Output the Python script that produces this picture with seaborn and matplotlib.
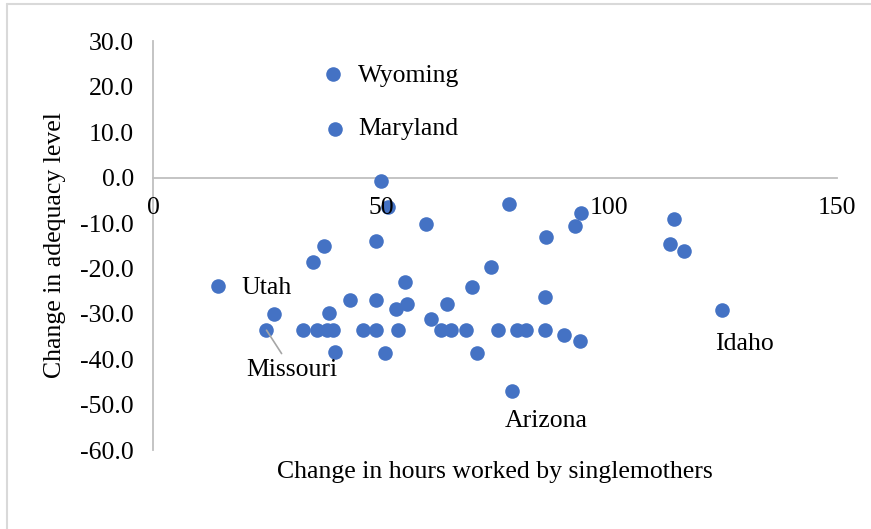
import matplotlib
matplotlib.use("Agg")
import matplotlib.pyplot as plt
import seaborn as sns
import pandas as pd
from matplotlib.lines import Line2D
from matplotlib.ticker import FormatStrFormatter

# Data: change in hours worked vs change in adequacy level
hours = [49.9, 51.5, 59.9, 48.9, 37.4, 35.0, 14.1, 55.2, 43.1, 48.8,
         55.7, 53.3, 64.5, 26.4, 38.5, 61.0, 24.8, 32.9, 35.8, 38.0,
         39.4, 46.0, 48.8, 53.6, 63.0, 65.2, 68.5, 75.7, 79.7, 81.7,
         85.9, 90.0, 93.5, 39.8, 50.8, 70.9, 78.6, 78.0, 93.9, 92.6,
         86.2, 114.2, 113.4, 116.4, 74.0, 69.8, 86.0, 124.7, 39.4, 39.8]
adequacy = [-0.7, -6.5, -10.2, -14.0, -15.1, -18.5, -23.9, -22.9, -26.9, -26.9,
            -27.8, -28.9, -27.9, -30.0, -29.8, -31.1, -33.6, -33.6, -33.6, -33.6,
            -33.6, -33.6, -33.6, -33.6, -33.6, -33.6, -33.6, -33.6, -33.6, -33.6,
            -33.6, -34.6, -35.9, -38.5, -38.6, -38.7, -47.0, -5.8, -7.8, -10.7,
            -13.0, -9.2, -14.7, -16.2, -19.7, -24.0, -26.3, -29.2, 22.8, 10.7]
states = [""] * len(hours)
states[6] = "Utah"
states[16] = "Missouri"
states[36] = "Arizona"
states[47] = "Idaho"
states[48] = "Wyoming"
states[49] = "Maryland"

df = pd.DataFrame({"Hours": hours, "Adequacy": adequacy, "State": states})

sns.set_style("white")
plt.rcParams["font.family"] = ["Liberation Serif", "DejaVu Serif"]
plt.rcParams["text.color"] = "black"
fs = 18.5

fig = plt.figure(figsize=(8.71, 5.29), dpi=100)
ax = fig.add_axes([0.1762, 0.1493, 0.7848, 0.7723])

sns.scatterplot(data=df, x="Hours", y="Adequacy", ax=ax, color="#4472C4",
                s=110, linewidth=0, zorder=3, clip_on=False)

ax.set_xlim(0, 150)
ax.set_ylim(-60, 30)
ax.set_xticks([0, 50, 100, 150])
ax.set_yticks(range(-60, 31, 10))
ax.yaxis.set_major_formatter(FormatStrFormatter("%.1f"))
ax.tick_params(length=0, labelsize=fs, colors="black", pad=14)
ax.xaxis.set_zorder(5)
ax.spines["bottom"].set_position(("data", 0))
for side in ["top", "right"]:
    ax.spines[side].set_visible(False)
for side in ["left", "bottom"]:
    ax.spines[side].set_color("#bfbfbf")
    ax.spines[side].set_linewidth(1.3)
ax.set_xlabel("")
ax.set_ylabel("")

# Data labels (offsets in points)
offsets = {
    "Wyoming": ((17.8, -1), "left"),
    "Maryland": ((16.6, 0), "left"),
    "Utah": ((16.8, -1), "left"),
    "Missouri": ((18.6, -28.8), "center"),
    "Arizona": ((25, -21.6), "center"),
    "Idaho": ((16.3, -24), "center"),
}
for _, row in df[df["State"] != ""].iterrows():
    off, ha = offsets[row["State"]]
    arrow = None
    if row["State"] == "Missouri":
        arrow = dict(arrowstyle="-", color="#a6a6a6", lw=1.2,
                     shrinkA=2, shrinkB=0)
    ax.annotate(row["State"], (row["Hours"], row["Adequacy"]),
                xytext=off, textcoords="offset points", ha=ha, va="center",
                fontsize=fs, color="black", arrowprops=arrow)

fig.text(495 / 871, 1 - 472 / 529, "Change in hours worked by singlemothers",
         ha="center", va="center", fontsize=fs)
fig.text(55 / 871, 1 - 245 / 529, "Change in adequacy level",
         ha="center", va="center", rotation=90, fontsize=fs)

# Chart border (only top and left edges show in the crop)
fig.add_artist(Line2D([7 / 871, 7 / 871], [0, 1 - 4 / 529],
                      transform=fig.transFigure, color="#d9d9d9", lw=1.5))
fig.add_artist(Line2D([7 / 871, 1], [1 - 4 / 529, 1 - 4 / 529],
                      transform=fig.transFigure, color="#d9d9d9", lw=1.5))

fig.savefig("out.png", dpi=100)
